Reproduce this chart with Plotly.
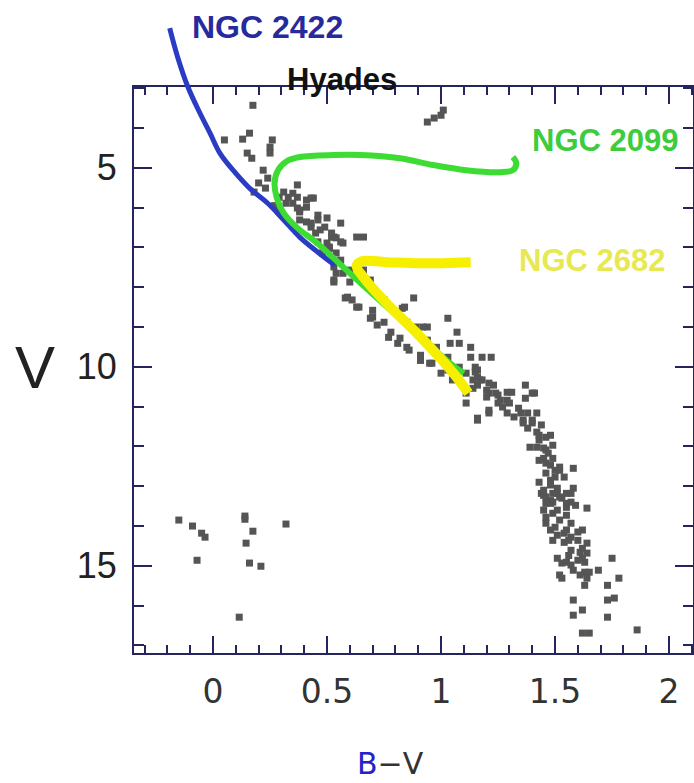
import plotly.graph_objects as go

# Hyades stars (B-V, V)
hyades_bv = [0.175, 0.05, 0.13, 0.16, 0.26, 0.25, 0.25, 0.15, 0.17, 0.22, 0.24, 0.20, 0.23, 0.18,
             0.37, 0.31, 0.33, 0.37, 0.41, 0.44, 0.32, 0.37, 0.38, 0.46, 0.41, 0.50, 0.49, 0.43,
             0.45, 0.52, 0.57, 0.46, 0.63,
             1.01, 1.00, 0.97, 0.94,
             0.51, 0.54, 0.53, 0.53, 0.57, 0.66, 0.69, 0.58, 0.63, 0.75, 0.88, 0.83, 0.70, 0.75,
             0.69, 0.85, 0.89, 0.94, 0.77, 0.81, 0.85, 0.94, 0.98, 1.03, 1.07, 1.04, 1.08, 1.03,
             0.91, 0.95, 1.13, 1.15, 1.14, 1.11, 1.00,
             0.66, 0.56, 0.51, 0.60, 0.53, 0.59, 0.84, 0.92, 1.13, 1.18, 1.22, 1.16, 1.18, 1.21,
             1.16, 1.21,
             1.16, 1.16, 1.20, 1.23, 1.25, 1.29, 1.37, 1.41, 1.11, 1.16, 1.21, 1.25, 1.29, 1.30,
             1.34, 1.38, 1.36, 1.42, 1.40, 1.44, 1.43, 1.46, 1.39, 1.45, 1.47, 1.45, 1.48, 1.50,
             1.52, 1.54, 1.48, 1.45, 1.51, 1.55, 1.57, 1.49, 1.48, 1.58, 1.58,
             1.44, 1.48, 1.51, 1.57, 1.45, 1.49, 1.55, 1.59, 1.64, 1.46, 1.52, 1.57, 1.48, 1.54,
             1.62, 1.57, 1.49, 1.54, 1.60, 1.64, 1.57, 1.61, 1.64, 1.51, 1.55, 1.60, 1.63, 1.75,
             1.58, 1.52, 1.63, 1.69, 1.53, 1.64, 1.63, 1.78, 1.73, 1.76, 1.73, 1.58, 1.62, 1.58,
             1.73, 1.62, 1.65, 1.86,
             -0.15, -0.09, -0.05, -0.035, -0.07, 0.14, 0.14, 0.175, 0.145, 0.16, 0.21, 0.32, 0.115,
             1.15, 1.17, 1.14, 1.21, 1.24, 1.20, 1.26, 1.29, 1.31, 1.27, 1.32, 1.35, 1.36, 1.38,
             1.40, 1.42, 1.37, 1.40, 1.43, 1.42, 1.46, 1.49, 1.43, 1.46, 1.49, 1.52, 1.46, 1.50,
             1.43, 1.48, 1.45, 1.49, 1.52, 1.55, 1.48,
             1.46, 1.53, 1.46, 1.51, 1.55, 1.46, 1.50, 1.55, 1.60, 1.51, 1.56, 1.62, 1.56, 1.62,
             1.53, 1.57, 1.61, 1.65,
             0.29, 0.35, 0.41, 0.38, 0.43, 0.47, 0.53, 0.51,
             0.50, 0.48, 0.54, 0.56, 0.60, 0.61, 0.64, 0.70, 0.72, 0.78, 0.82, 0.86, 0.91, 0.96,
             1.03, 1.05, 1.08, 1.11,
             0.35, 0.43, 0.38, 0.46, 0.56, 0.52, 0.54, 0.27, 0.29]
hyades_v = [3.43, 4.30, 4.28, 4.13, 4.30, 4.48, 4.63, 4.63, 4.76, 5.06, 5.26, 5.38, 5.51, 5.61,
            5.43, 5.61, 5.74, 5.74, 5.81, 5.76, 5.89, 6.01, 6.11, 6.19, 6.36, 6.26, 6.49, 6.49,
            6.64, 6.74, 6.89, 6.86, 6.74,
            3.55, 3.68, 3.75, 3.85,
            6.99, 7.14, 7.49, 7.87, 7.65, 7.57, 7.82, 8.27, 8.50, 8.32, 8.27, 8.53, 8.58, 8.88,
            8.78, 8.88, 9.00, 9.00, 9.26, 9.41, 9.51, 9.33, 9.51, 8.78, 9.13, 9.41, 9.41, 9.76,
            9.84, 9.91, 9.76, 10.01, 10.33, 10.66, 10.16,
            6.74, 6.86, 7.02, 7.57, 7.82, 8.25, 8.50, 9.00, 9.51, 9.76, 9.76, 10.08, 10.33, 10.66,
            11.29, 11.16,
            10.26, 10.46, 10.59, 10.46, 10.71, 10.64, 10.46, 10.66, 10.91, 11.34, 11.09, 10.91, 11.16, 10.91,
            11.04, 11.16, 11.34, 11.16, 11.41, 11.46, 11.72, 11.77, 12.02, 12.04, 12.17, 12.30, 12.47, 12.60,
            12.60, 12.77, 12.85, 13.23, 13.05, 13.18, 13.40, 13.40, 11.72, 12.55, 13.05,
            13.18, 13.36, 13.18, 13.18, 13.60, 13.68, 13.53, 13.48, 13.55, 13.93, 13.85, 13.93, 14.10, 14.18,
            14.10, 14.28, 14.36, 14.41, 14.36, 14.43, 14.61, 14.66, 14.68, 14.81, 14.91, 14.86, 14.91, 14.81,
            15.11, 15.23, 15.16, 15.11, 15.31, 15.31, 15.49, 15.31, 15.49, 15.81, 15.86, 15.86, 16.11, 16.24,
            16.29, 16.69, 16.69, 16.61,
            13.85, 14.00, 14.18, 14.28, 14.86, 13.75, 13.83, 14.13, 14.43, 14.93, 15.01, 13.95, 16.29,
            10.13, 10.33, 10.54, 10.41, 10.66, 10.76, 10.84, 10.84, 10.64, 11.01, 11.26, 11.16, 11.41, 11.54,
            11.34, 11.64, 10.79, 10.66, 11.84, 12.02, 12.09, 11.97, 12.35, 12.42, 12.30, 12.52, 12.67, 12.77,
            12.90, 12.97, 13.10, 13.18, 13.27, 13.43, 13.43,
            13.27, 13.30, 13.43, 13.60, 13.73, 13.78, 14.03, 14.10, 14.15, 14.23, 14.36, 14.56, 14.74, 14.81,
            14.93, 14.98, 15.23, 15.16,
            5.74, 5.89, 5.99, 6.31, 6.39, 6.56, 6.74, 7.02,
            6.89, 7.14, 7.65, 7.32, 7.87, 8.32, 8.50, 8.75, 8.95, 9.13, 9.28, 9.58, 9.71, 9.91,
            10.08, 10.33, 10.01, 10.16,
            5.64, 5.76, 6.06, 6.31, 6.39, 6.64, 6.76, 5.95, 6.10]

# Cluster sequences overlaid on the Hyades diagram
ngc2422_bv = [-0.19, -0.155, -0.11, -0.057, -0.013, 0.03, 0.088, 0.16, 0.24, 0.31, 0.38, 0.46, 0.535]
ngc2422_v = [1.49, 2.22, 2.97, 3.63, 4.13, 4.63, 5.06, 5.51, 5.89, 6.31, 6.74, 7.12, 7.45]

ngc2099_bv = [1.10, 1.04, 0.895, 0.745, 0.60, 0.456, 0.37, 0.31, 0.28, 0.27, 0.285, 0.325, 0.38,
              0.53, 0.645, 0.82, 0.965, 1.11, 1.26, 1.315, 1.33, 1.315]
ngc2099_v = [10.16, 9.91, 9.16, 8.40, 7.65, 6.89, 6.51, 6.14, 5.76, 5.38, 5.06, 4.83, 4.73,
             4.68, 4.68, 4.76, 4.93, 5.06, 5.11, 5.06, 4.88, 4.73]

ngc2682_bv = [1.12, 1.05, 0.91, 0.76, 0.66, 0.63, 0.65, 0.76, 0.91, 1.13]
ngc2682_v = [10.66, 10.13, 9.25, 8.40, 7.75, 7.47, 7.35, 7.37, 7.40, 7.37]

x_ticks = [0, 0.5, 1, 1.5, 2]
x_tick_text = ["0", "0.5", "1", "1.5", "2"]
y_ticks = [5, 10, 15]

# --- geometry (pixels) ---
W, H = 694, 783
L, R, T, B = 134, 693, 87, 653
x_lo, x_hi = -0.3465, 2.105
v_top, v_bot = 2.97, 17.19
sx = (R - L) / (x_hi - x_lo)
sy = (B - T) / (v_bot - v_top)
x2_range = [x_lo - L / sx, x_hi + (W - R) / sx]
y2_range = [v_bot + (H - B) / sy, v_top - T / sy]

fig = go.Figure()
fig.add_trace(go.Scatter(x=hyades_bv, y=hyades_v, mode="markers",
                         marker=dict(symbol="square", size=7, color="#555555", line=dict(width=0)),
                         showlegend=False))
for bv, v, col, w in [(ngc2422_bv, ngc2422_v, "#2b3cc4", 5),
                      (ngc2099_bv, ngc2099_v, "#3cdc32", 6),
                      (ngc2682_bv, ngc2682_v, "#f7ef00", 10)]:
    fig.add_trace(go.Scatter(x=bv, y=v, mode="lines", xaxis="x2", yaxis="y2",
                             line=dict(color=col, width=w, shape="spline"), showlegend=False))

axis_line = "#24245e"
fig.update_layout(
    xaxis=dict(domain=[L / W, R / W], range=[x_lo, x_hi], showgrid=False, zeroline=False,
               showline=True, linecolor=axis_line, linewidth=2, mirror="ticks",
               ticks="inside", ticklen=17, tickwidth=2, tickcolor=axis_line,
               tickvals=x_ticks, ticktext=x_tick_text, ticklabelstandoff=8, automargin=False,
               tickfont=dict(family="DejaVu Sans", size=33, color="#333333"),
               minor=dict(ticks="inside", ticklen=8, tickwidth=1.5, tickcolor=axis_line, dtick=0.1, tick0=0)),
    yaxis=dict(domain=[1 - B / H, 1 - T / H], range=[v_bot, v_top], showgrid=False, zeroline=False,
               showline=True, linecolor=axis_line, linewidth=2, mirror="ticks",
               ticks="inside", ticklen=18, tickwidth=2, tickcolor=axis_line,
               tickvals=y_ticks, ticklabelstandoff=8, automargin=False,
               tickfont=dict(family="Liberation Sans", size=36, color="#222222"),
               minor=dict(ticks="inside", ticklen=10, tickwidth=1.5, tickcolor=axis_line, dtick=1, tick0=0)),
    xaxis2=dict(domain=[0, 1], range=x2_range, anchor="y2", visible=False, fixedrange=True),
    yaxis2=dict(domain=[0, 1], range=y2_range, anchor="x2", visible=False, fixedrange=True),
)

ann = []
ann.append(dict(x=35 / W, y=1 - 367 / H, xref="paper", yref="paper", text="V", showarrow=False,
                font=dict(family="Liberation Sans", size=60, color="#222222"), xanchor="center", yanchor="middle"))
ann.append(dict(x=390 / W, y=1 - 763 / H, xref="paper", yref="paper",
                text="<span style='color:#2222c8'>B</span>−V", showarrow=False,
                font=dict(family="DejaVu Sans", size=30, color="#333333"), xanchor="center", yanchor="middle"))
ann.append(dict(x=267 / W, y=1 - 27 / H, xref="paper", yref="paper", text="<b>NGC 2422</b>", showarrow=False,
                font=dict(family="Liberation Sans", size=32, color="#262a9c"), xanchor="center", yanchor="middle"))
ann.append(dict(x=342 / W, y=1 - 79 / H, xref="paper", yref="paper", text="<b>Hyades</b>", showarrow=False,
                font=dict(family="Liberation Sans", size=31, color="#111111"), xanchor="center", yanchor="middle"))
ann.append(dict(x=605 / W, y=1 - 141 / H, xref="paper", yref="paper", text="<b>NGC 2099</b>", showarrow=False,
                font=dict(family="Liberation Sans", size=31, color="#3ccc3c"), xanchor="center", yanchor="middle"))
ann.append(dict(x=592 / W, y=1 - 260 / H, xref="paper", yref="paper", text="<b>NGC 2682</b>", showarrow=False,
                font=dict(family="Liberation Sans", size=31, color="#e8e852"), xanchor="center", yanchor="middle"))

fig.update_layout(width=W, height=H, margin=dict(l=0, r=0, t=0, b=0, pad=0),
                  paper_bgcolor="white", plot_bgcolor="rgba(0,0,0,0)", annotations=ann, showlegend=False)

fig.write_html("out.html")
